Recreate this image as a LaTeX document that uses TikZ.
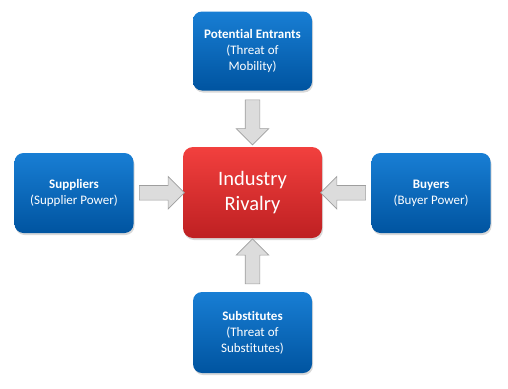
\documentclass[tikz,border=0pt]{standalone}
\usepackage{fontspec}
\setmainfont[Ligatures=NoCommon]{Carlito}
\usepackage{xcolor}
\usetikzlibrary{shapes.arrows,shadows,calc}
\definecolor{forcetop}{RGB}{24,126,212}
\definecolor{forcebot}{RGB}{0,84,160}
\definecolor{rivaltop}{RGB}{242,64,62}
\definecolor{rivalbot}{RGB}{190,32,34}
\definecolor{pushfill}{RGB}{220,220,220}
\definecolor{pushline}{RGB}{158,158,158}
\tikzset{
  force/.style={rectangle, rounded corners=9pt, top color=forcetop,
                bottom color=forcebot, text=white, align=center,
                font=\fontsize{13}{16}\selectfont,
                minimum width=119pt, minimum height=#1, inner sep=2pt,
                drop shadow={opacity=0.3, shadow xshift=1pt, shadow yshift=-2pt}},
  force/.default=79pt,
  rivalry/.style={rectangle, rounded corners=10pt, top color=rivaltop,
                  bottom color=rivalbot, text=white, align=center,
                  font=\fontsize{20.5}{25}\selectfont,
                  minimum width=139pt, minimum height=91pt, inner sep=2pt,
                  drop shadow={opacity=0.3, shadow xshift=1pt, shadow yshift=-2pt}},
  push/.style={single arrow, draw=pushline, fill=pushfill, line width=0.6pt,
               minimum height=45pt, inner sep=7pt,
               single arrow head extend=9pt, rotate=#1},
}

\begin{document}
\begin{tikzpicture}[x=1pt, y=-1pt]
  \useasboundingbox (0,0) rectangle (508,388);
  \node[rivalry] (rivalry) at (252.5,192.5) {Industry\\Rivalry};
  \node[force] (entrants) at (252.5,51) {\textbf{Potential Entrants}\\(Threat of\\Mobility)};
  \node[force=80pt] (suppliers) at (74,193) {\textbf{Suppliers}\\(Supplier Power)};
  \node[force=80pt] (buyers) at (431,193) {\textbf{Buyers}\\(Buyer Power)};
  \node[force=81pt] (substitutes) at (252.5,332.5) {\textbf{Substitutes}\\(Threat of\\Substitutes)};
  % block arrows towards the rivalry box
  \node[push=-90] (fromtop) at ($(entrants.south)!0.5!(rivalry.north)$) {};
  \node[push=90] (frombot) at ($(substitutes.north)!0.5!(rivalry.south)$) {};
  \node[push=0] (fromleft) at ($(suppliers.east)!0.5!(rivalry.west)$) {};
  \node[push=180] (fromright) at ($(buyers.west)!0.5!(rivalry.east)$) {};
\end{tikzpicture}
\end{document}
